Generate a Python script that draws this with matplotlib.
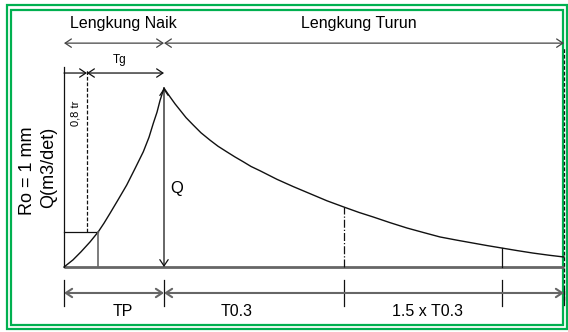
import matplotlib
matplotlib.use('Agg')
import matplotlib.pyplot as plt
from matplotlib.patches import Rectangle

# hydrograph (t in units of TP, Q in units of Qp)
t_rise = [0.0, 0.09, 0.17, 0.26, 0.343, 0.40, 0.46, 0.54, 0.627, 0.71,
          0.793, 0.85, 0.893, 0.93, 0.96, 1.0]
q_rise = [0.0, 0.04, 0.085, 0.14, 0.197, 0.245, 0.30, 0.375, 0.458, 0.55,
          0.644, 0.725, 0.803, 0.865, 0.93, 1.0]
t_fall = [1.0, 1.03, 1.06, 1.11, 1.16, 1.22, 1.293, 1.37, 1.46, 1.54, 1.627,
          1.71, 1.793, 1.87, 1.96, 2.13, 2.29, 2.46, 2.63, 2.80, 2.95, 3.09,
          3.26, 3.43, 3.60, 3.76, 3.93, 4.09, 4.23, 4.38, 4.53, 4.69, 4.85, 5.0]
q_fall = [1.0, 0.975, 0.951, 0.912, 0.877, 0.835, 0.793, 0.75, 0.709, 0.675,
          0.644, 0.615, 0.588, 0.562, 0.538, 0.49, 0.45, 0.41, 0.37, 0.335,
          0.305, 0.28, 0.248, 0.218, 0.192, 0.168, 0.150, 0.134, 0.12, 0.106,
          0.092, 0.078, 0.066, 0.056]

# key times / discharges
tp = 1.0
t_08tr = 0.23
q_08tr = 0.197
t_box = 0.343
t_03 = 2.80
q_03 = 0.335
t_03b = 4.38
q_03b = 0.106
t_end = 5.0

top_labels = ['Lengkung Naik', 'Lengkung Turun']
bottom_labels = ['TP', 'T0.3', '1.5 x T0.3']

plt.rcParams['font.family'] = ['Liberation Sans', 'DejaVu Sans']

fig = plt.figure(figsize=(5.68, 3.32), dpi=100)
ax = fig.add_axes([0, 0, 1, 1])
ax.set_xlim(-0.64, 5.04)
ax.set_ylim(-0.363, 1.492)
ax.axis('off')

GREEN = '#00b050'
for (x0, y0, x1, y1) in [(7, 5, 567, 329), (11, 10, 563, 325)]:
    ax.add_patch(Rectangle((x0 / 568, 1 - y1 / 332), (x1 - x0) / 568, (y1 - y0) / 332,
                           transform=ax.transAxes, fill=False, ec=GREEN, lw=1.6))

BLACK = '#111111'
GRAY = '#666666'


def arrow(x0, y0, x1, y1, style='<->', color=BLACK, lw=0.9):
    ax.annotate('', xy=(x1, y1), xytext=(x0, y0),
                arrowprops=dict(arrowstyle=style + ',head_length=0.45,head_width=0.3',
                                color=color, lw=lw, shrinkA=0, shrinkB=0,
                                mutation_scale=10))


# baseline and curve
ax.plot([0, t_end], [0, 0], color=GRAY, lw=2, solid_capstyle='butt')
ax.plot(t_rise, q_rise, color=BLACK, lw=1.0)
ax.plot(t_fall, q_fall, color=BLACK, lw=1.0)

# left axis and small box
ax.plot([0, 0], [0, 1.117], color=BLACK, lw=0.9)
ax.plot([0, t_box], [q_08tr, q_08tr], color=BLACK, lw=0.9)
ax.plot([t_box, t_box], [0, q_08tr], color=GRAY, lw=1.2)
ax.plot([t_08tr, t_08tr], [q_08tr, 1.10], color=BLACK, lw=0.9, ls=(0, (3, 1.5)))

# verticals on the falling limb
ax.plot([t_03, t_03], [0, q_03], color=BLACK, lw=0.9, ls='-.')
ax.plot([t_03b, t_03b], [0, q_03b], color=BLACK, lw=0.9)
ax.plot([t_end, t_end], [-0.184, 1.223], color=BLACK, lw=0.9, ls=(0, (3, 1.5)))

# Q arrow
arrow(tp, 0, tp, 1.0)

# top dimension line
y_top = 1.251
arrow(0, y_top, tp, y_top, color='#444444')
arrow(tp, y_top, t_end, y_top, color='#444444')

# Tg line
y_tg = 1.084
arrow(0, y_tg, t_08tr, y_tg, style='->')
arrow(t_08tr, y_tg, tp, y_tg)

# bottom dimension line
y_bot = -0.145
arrow(0, y_bot, tp, y_bot, color=GRAY, lw=1.5)
arrow(tp, y_bot, t_end, y_bot, color=GRAY, lw=1.5)
for tx in [0, tp, t_03, t_03b]:
    ax.plot([tx, tx], [-0.073, -0.218], color=BLACK, lw=0.9)
ax.plot([t_end, t_end], [-0.12, -0.21], color=BLACK, lw=0.9)

# texts
ax.text(0.59, 1.363, top_labels[0], fontsize=11.5, ha='center', va='center')
ax.text(2.95, 1.363, top_labels[1], fontsize=11.5, ha='center', va='center')
ax.text(0.56, 1.156, 'Tg', fontsize=8.5, ha='center', va='center')
ax.text(0.11, 0.86, '0,8 tr', fontsize=8, ha='center', va='center', rotation=90)
ax.text(1.13, 0.44, 'Q', fontsize=12, ha='center', va='center')
ax.text(0.59, -0.246, bottom_labels[0], fontsize=11.5, ha='center', va='center')
ax.text(1.73, -0.246, bottom_labels[1], fontsize=11.5, ha='center', va='center')
ax.text(3.63, -0.246, bottom_labels[2], fontsize=11.5, ha='center', va='center')
ax.text(-0.37, 0.54, 'Ro = 1 mm', fontsize=13, ha='center', va='center', rotation=90)
ax.text(-0.15, 0.555, 'Q(m3/det)', fontsize=13, ha='center', va='center', rotation=90)

fig.savefig('out.png', dpi=100)
